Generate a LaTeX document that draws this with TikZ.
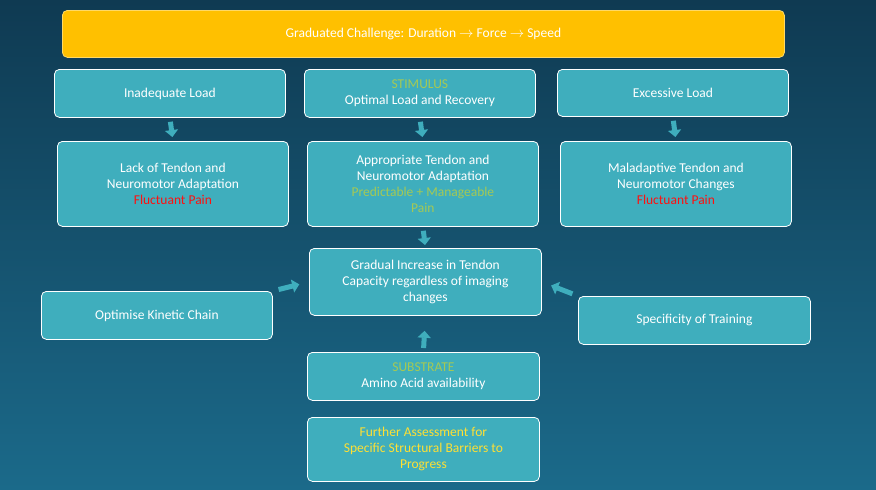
\documentclass[tikz,border=0pt]{standalone}
\usepackage{fontspec}
\setmainfont{Carlito}
\usetikzlibrary{arrows.meta}
\definecolor{BoxTeal}{HTML}{3FAEBD}
\definecolor{BgTop}{HTML}{0F3A52}
\definecolor{BgBot}{HTML}{1B6A8A}
\definecolor{GoldBar}{HTML}{FFC000}
\definecolor{StimGreen}{HTML}{A5C954}
\definecolor{PainRed}{HTML}{FF1010}
\definecolor{NoteYellow}{HTML}{FFE033}

\begin{document}
\begin{tikzpicture}[x=1pt,y=1pt,yscale=-1,
		box/.style={draw=white, line width=0.8pt, fill=BoxTeal, rounded corners=5pt, text=white,
			align=center, font=\fontsize{13.5}{16}\selectfont, inner sep=2pt, anchor=north west},
		flowarrow/.style={draw=BoxTeal, line width=5pt, -{Triangle[length=7pt,width=13pt]}}]
		% background
		\shade[top color=BgTop, bottom color=BgBot] (0,0) rectangle (876,490);
		\useasboundingbox (0,0) rectangle (876,490);

		% title bar
		\node[box, draw=GoldBar!60!white, fill=GoldBar, minimum width=722pt, minimum height=47pt] (title) at (62,10)
			{Graduated Challenge: Duration \ensuremath{\rightarrow} Force \ensuremath{\rightarrow} Speed};

		% loads
		\node[box, minimum width=231pt, minimum height=48pt] (inadequate) at (54,69) {Inadequate Load};
		\node[box, minimum width=231pt, minimum height=48pt] (stimulus) at (304,69) {\textcolor{StimGreen}{STIMULUS}\\Optimal Load and Recovery};
		\node[box, minimum width=231pt, minimum height=47pt] (excessive) at (557,69) {Excessive Load};

		% responses
		\node[box, minimum width=231pt, minimum height=85pt] (lack) at (57,141) {Lack of Tendon and\\Neuromotor Adaptation\\\textcolor{PainRed}{Fluctuant Pain}};
		\node[box, minimum width=231pt, minimum height=85pt] (appropriate) at (307,141) {Appropriate Tendon and\\Neuromotor Adaptation\\\textcolor{StimGreen}{Predictable + Manageable}\\\textcolor{StimGreen}{Pain}};
		\node[box, minimum width=231pt, minimum height=85pt] (maladaptive) at (560,141) {Maladaptive Tendon and\\Neuromotor Changes\\\textcolor{PainRed}{Fluctuant Pain}};

		% centre
		\node[box, minimum width=232pt, minimum height=67pt] (capacity) at (309,248) {Gradual Increase in Tendon\\Capacity regardless of imaging\\changes};
		\node[box, minimum width=231pt, minimum height=48pt] (kinetic) at (41,291) {Optimise Kinetic Chain};
		\node[box, minimum width=232pt, minimum height=48pt] (training) at (578,296) {Specificity of Training};
		\node[box, minimum width=232pt, minimum height=48pt] (substrate) at (307,352) {\textcolor{StimGreen}{SUBSTRATE}\\Amino Acid availability};
		\node[box, minimum width=232pt, minimum height=64pt] (further) at (307,417) {\textcolor{NoteYellow}{Further Assessment for}\\\textcolor{NoteYellow}{Specific Structural Barriers to}\\\textcolor{NoteYellow}{Progress}};

		% arrows
		\draw[flowarrow, shorten <=4pt, shorten >=4pt] (inadequate.south) -- (lack.north);
		\draw[flowarrow, shorten <=4pt, shorten >=4pt] (stimulus.south) -- (appropriate.north);
		\draw[flowarrow, shorten <=4pt, shorten >=4pt] (excessive.south) -- (maladaptive.north);
		\draw[flowarrow, shorten <=4pt, shorten >=3pt] (appropriate.south) -- (capacity.north);
		\draw[flowarrow, shorten <=4pt, shorten >=15pt] (substrate.north) -- (capacity.south);
		\draw[flowarrow, shorten <=6pt, shorten >=10pt] (kinetic.north east) -- (capacity.west);
		\draw[flowarrow, shorten <=6pt, shorten >=10pt] (training.north west) -- (capacity.east);
	\end{tikzpicture}
\end{document}
